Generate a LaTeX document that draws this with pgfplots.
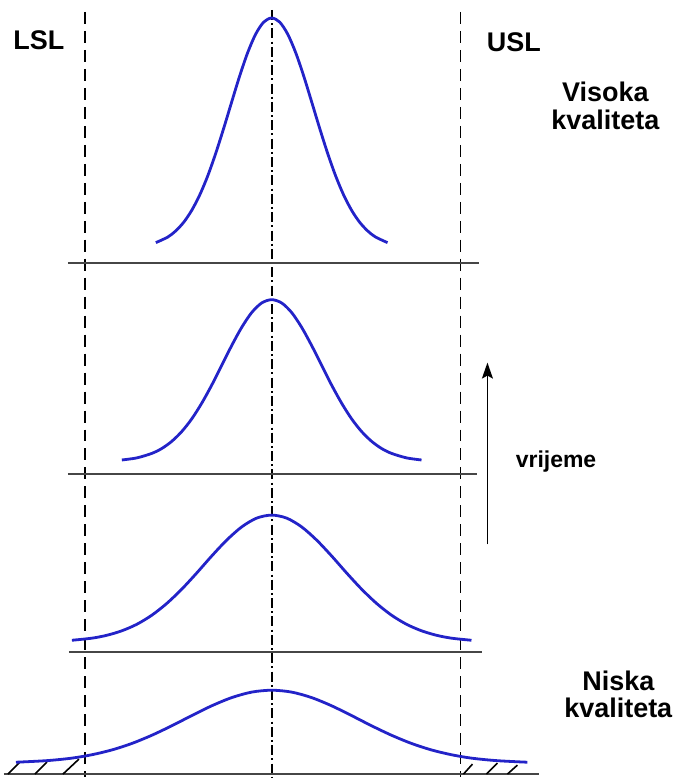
\documentclass[border=0pt]{standalone}
\usepackage{pgfplots}
\pgfplotsset{compat=1.18}
\usepackage{fontspec}
\setmainfont{Liberation Sans}
\usetikzlibrary{arrows.meta}
\definecolor{curveblue}{RGB}{35,35,200}
\definecolor{baseg}{RGB}{70,70,70}
\begin{document}
\begin{tikzpicture}
\begin{axis}[
  scale only axis, width=339pt, height=389pt,
  xmin=0, xmax=678, ymin=0, ymax=778, y dir=reverse,
  hide axis, clip=false,
]
% frame extent
\addplot[draw=none] coordinates {(0,0) (678,778)};
% vertical reference lines
\addplot[black, line width=0.9pt, dash pattern=on 6pt off 3.5pt] coordinates {(85,12) (85,778)};
\addplot[black, line width=0.9pt, dash pattern=on 6pt off 3.5pt] coordinates {(461,12) (461,778)};
\addplot[black, line width=0.9pt, dash pattern=on 5pt off 1.6pt on 1pt off 1.6pt] coordinates {(272,10) (272,778)};
% baselines
\addplot[baseg, line width=1pt] coordinates {(68,263) (480,263)};
\addplot[baseg, line width=1pt] coordinates {(68,475) (478,475)};
\addplot[baseg, line width=1pt] coordinates {(69,653) (483,653)};
\addplot[baseg, line width=1pt] coordinates {(4,775) (540,775)};
% hatching
\addplot[black, line width=0.8pt] coordinates {(8,775) (20,763)};
\addplot[black, line width=0.8pt] coordinates {(35,775) (47,763)};
\addplot[black, line width=0.8pt] coordinates {(63,775) (79,760)};
\addplot[black, line width=0.8pt] coordinates {(464,775) (473,765)};
\addplot[black, line width=0.8pt] coordinates {(487,775) (498,764)};
\addplot[black, line width=0.8pt] coordinates {(508,775) (518,766)};
% curves
\addplot[curveblue, line width=1.4pt, smooth] coordinates {
(156,242.9)(168,237.3)(176,231.1)(184,222.4)(192,210.5)(200,195.1)(208,176.0)(216,153.4)(224,128.3)(232,101.9)(240,75.9)(248,52.6)(256,34.1)(264,22.1)(272,18)(280,22.1)(288,34.1)(296,52.6)(304,75.9)(312,101.9)(320,128.3)(328,153.4)(336,176.0)(344,195.1)(352,210.5)(360,222.4)(368,231.1)(376,237.3)(388,242.9)};
\addplot[curveblue, line width=1.4pt, smooth] coordinates {
(122,460.5)(137,458.4)(152,453.9)(162,449.0)(172,441.8)(182,432.0)(192,419.3)(202,403.6)(212,385.5)(222,365.7)(232,345.9)(242,327.7)(252,312.9)(262,303.3)(272,300)(282,303.3)(292,312.9)(302,327.7)(312,345.9)(322,365.7)(332,385.5)(342,403.6)(352,419.3)(362,432.0)(372,441.8)(382,449.0)(392,453.9)(407,458.4)(422,460.5)};
\addplot[curveblue, line width=1.4pt, smooth] coordinates {
(72,641.0)(92,638.9)(107,636.0)(122,631.5)(137,625.0)(152,615.9)(167,604.1)(182,589.8)(197,573.6)(212,556.6)(227,540.7)(242,527.5)(257,518.7)(272,515.7)(287,518.7)(302,527.5)(317,540.7)(332,556.6)(347,573.6)(362,589.8)(377,604.1)(392,615.9)(407,625.0)(422,631.5)(437,636.0)(452,638.9)(472,641.0)};
\addplot[curveblue, line width=1.4pt, smooth] coordinates {
(16,763.1)(47,761.5)(72,759.0)(92,755.6)(112,750.8)(132,744.3)(152,736.1)(172,726.6)(192,716.4)(212,706.6)(232,698.4)(252,692.9)(272,691)(292,692.9)(312,698.4)(332,706.6)(352,716.4)(372,726.6)(392,736.1)(412,744.3)(432,750.8)(452,755.6)(472,759.0)(497,761.5)(528,763.1)};
% arrow
\addplot[black, line width=0.8pt, -{Stealth[length=8pt,width=5.5pt,inset=1.5pt]}] coordinates {(488,545) (488,363)};
% labels
\node[anchor=base west, inner sep=0pt, font=\fontsize{13.5}{16}\selectfont\bfseries] at (axis cs:13,50) {LSL};
\node[anchor=base west, inner sep=0pt, font=\fontsize{13.5}{16}\selectfont\bfseries] at (axis cs:487,52) {USL};
\node[anchor=base, inner sep=0pt, font=\fontsize{13.5}{16}\selectfont\bfseries] at (axis cs:606,102) {Visoka};
\node[anchor=base, inner sep=0pt, font=\fontsize{13.5}{16}\selectfont\bfseries] at (axis cs:606,130) {kvaliteta};
\node[anchor=base, inner sep=0pt, font=\fontsize{13.5}{16}\selectfont\bfseries] at (axis cs:619,691) {Niska};
\node[anchor=base, inner sep=0pt, font=\fontsize{13.5}{16}\selectfont\bfseries] at (axis cs:619,718) {kvaliteta};
\node[anchor=base west, inner sep=0pt, font=\fontsize{11.5}{14}\selectfont\bfseries] at (axis cs:516,468) {vrijeme};
\end{axis}
\end{tikzpicture}
\end{document}
